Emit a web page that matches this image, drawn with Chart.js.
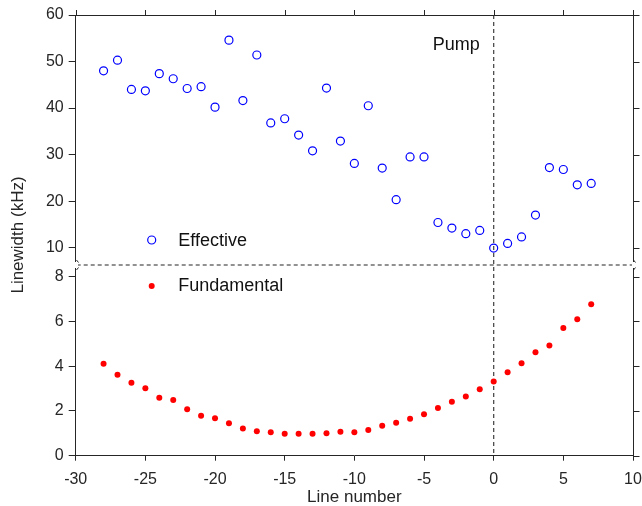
<!DOCTYPE html>
<html>
<head>
<meta charset="utf-8">
<script src="https://cdn.jsdelivr.net/npm/chart.js@4.4.1/dist/chart.umd.min.js"></script>
<style>
    html, body { margin: 0; padding: 0; background: #fff; }
    #wrap { width: 642px; height: 506px; }
</style>
</head>
<body>
<div id="wrap"><canvas id="chart"></canvas></div>
<script>
// data
const lineNumbers = [-28, -27, -26, -25, -24, -23, -22, -21, -20, -19, -18, -17, -16, -15, -14, -13, -12,
    -11, -10, -9, -8, -7, -6, -5, -4, -3, -2, -1, 0, 1, 2, 3, 4, 5, 6, 7];
const effectiveLinewidth = [48.0, 50.3, 44.0, 43.7, 47.4, 46.3, 44.2, 44.6, 40.2, 54.6, 41.6, 51.4, 36.8, 37.7, 34.2, 30.8, 44.3,
    32.9, 28.1, 40.5, 27.1, 20.3, 29.5, 29.5, 15.4, 14.2, 13.0, 13.7, 9.9, 10.9, 12.3, 17.0, 27.2, 26.8, 23.5, 23.8];
const fundamentalLinewidth = [4.11, 3.62, 3.26, 3.01, 2.59, 2.49, 2.07, 1.79, 1.67, 1.45, 1.22, 1.09, 1.05, 0.98, 0.98, 0.98, 1.00,
    1.07, 1.05, 1.15, 1.34, 1.47, 1.65, 1.85, 2.13, 2.41, 2.65, 2.97, 3.32, 3.73, 4.13, 4.62, 4.92, 5.71, 6.10, 6.77];

const xTicks = [-30, -25, -20, -15, -10, -5, 0, 5, 10];
const upperTicks = [10, 20, 30, 40, 50, 60];
const lowerTicks = [0, 2, 4, 6, 8];

const upperRange = [6.27, 60];
const lowerRange = [0, 8.52];
const pumpLine = 0;

const INK = '#262626';
const FONT = "'Liberation Sans', Arial, sans-serif";

function toPoints(xs, ys) {
    return xs.map((x, i) => ({ x, y: ys[i] }));
}

function fixedTicks(values) {
    return scale => { scale.ticks = values.map(v => ({ value: v })); };
}

function yScale(range, ticks, weight) {
    return {
        type: 'linear',
        position: 'left',
        stack: 'y',
        stackWeight: weight,
        min: range[0],
        max: range[1],
        afterBuildTicks: fixedTicks(ticks),
        afterFit: scale => { scale.width = 67.7; },
        grid: { drawOnChartArea: false, drawTicks: true, tickLength: 7, color: INK },
        border: { color: INK, width: 1 },
        ticks: { color: INK, font: { size: 16, family: FONT }, padding: 5 }
    };
}

// frame, break line, pump marker, legend and labels
const decorations = {
    id: 'decorations',
    beforeDatasetsDraw(chart) {
        const { ctx, chartArea, scales } = chart;
        const breakY = scales.yUpper.bottom;
        const px = scales.x.getPixelForValue(pumpLine);

        ctx.save();
        ctx.strokeStyle = '#6e6e6e';
        ctx.lineWidth = 1.3;
        ctx.setLineDash([4, 3]);
        ctx.beginPath();
        ctx.moveTo(chartArea.left + 1, breakY);
        ctx.lineTo(chartArea.right - 1, breakY);
        ctx.stroke();

        ctx.strokeStyle = '#4d4d4d';
        ctx.beginPath();
        ctx.moveTo(px, chartArea.top);
        ctx.lineTo(px, chartArea.bottom);
        ctx.stroke();
        ctx.restore();
    },
    afterDraw(chart) {
        const { ctx, chartArea, scales } = chart;
        const { left, right, top, bottom } = chartArea;
        const breakY = scales.yUpper.bottom;

        ctx.save();
        ctx.strokeStyle = INK;
        ctx.lineWidth = 1;

        // top border with outward ticks
        ctx.beginPath();
        ctx.moveTo(left, top + 0.5);
        ctx.lineTo(right, top + 0.5);
        for (const v of xTicks) {
            const x = Math.round(scales.x.getPixelForValue(v)) + 0.5;
            ctx.moveTo(x, top);
            ctx.lineTo(x, top - 5);
        }
        ctx.stroke();

        // right border with outward ticks, broken at the axis break
        const rx = Math.round(right) + 0.5;
        ctx.beginPath();
        ctx.moveTo(rx, top);
        ctx.lineTo(rx, breakY - 3);
        ctx.moveTo(rx, breakY + 3);
        ctx.lineTo(rx, bottom);
        for (const v of upperTicks) {
            const y = Math.round(scales.yUpper.getPixelForValue(v)) + 0.5;
            ctx.moveTo(rx, y);
            ctx.lineTo(rx + 6, y);
        }
        for (const v of lowerTicks) {
            const y = Math.round(scales.yLower.getPixelForValue(v)) + 0.5;
            ctx.moveTo(rx, y);
            ctx.lineTo(rx + 6, y);
        }
        ctx.stroke();

        // gap and break marks on both vertical axes
        const lx = Math.round(left) + 0.5;
        ctx.fillStyle = '#fff';
        ctx.fillRect(lx - 1.5, breakY - 3, 3, 6);
        ctx.beginPath();
        for (const x of [lx, rx]) {
            ctx.moveTo(x, breakY - 5);
            ctx.lineTo(x + 2, breakY - 2.5);
            ctx.moveTo(x, breakY + 5);
            ctx.lineTo(x + 2, breakY + 2.5);
        }
        ctx.stroke();

        // legend
        ctx.lineWidth = 1.2;
        ctx.strokeStyle = '#0000ff';
        ctx.beginPath();
        ctx.arc(left + 76, 240, 4, 0, Math.PI * 2);
        ctx.stroke();
        ctx.fillStyle = '#ff0000';
        ctx.beginPath();
        ctx.arc(left + 76, 286, 3, 0, Math.PI * 2);
        ctx.fill();

        ctx.fillStyle = '#111';
        ctx.font = `18px ${FONT}`;
        ctx.textBaseline = 'middle';
        ctx.textAlign = 'left';
        ctx.fillText('Effective', left + 102.5, 241);
        ctx.fillText('Fundamental', left + 102.5, 286);

        ctx.textAlign = 'right';
        ctx.fillText('Pump', scales.x.getPixelForValue(pumpLine) - 14, 45);

        // shared y-axis title
        ctx.fillStyle = INK;
        ctx.font = `17px ${FONT}`;
        ctx.textAlign = 'center';
        ctx.translate(18, 235);
        ctx.rotate(-Math.PI / 2);
        ctx.fillText('Linewidth (kHz)', 0, 0);
        ctx.restore();
    }
};

window.addEventListener('load', () => {
    new Chart(document.getElementById('chart'), {
        type: 'scatter',
        data: {
            datasets: [
                {
                    label: 'Effective',
                    data: toPoints(lineNumbers, effectiveLinewidth),
                    yAxisID: 'yUpper',
                    pointStyle: 'circle',
                    pointRadius: 4,
                    pointBorderWidth: 1.2,
                    pointBorderColor: '#0000ff',
                    pointBackgroundColor: 'rgba(0,0,0,0)'
                },
                {
                    label: 'Fundamental',
                    data: toPoints(lineNumbers, fundamentalLinewidth),
                    yAxisID: 'yLower',
                    pointStyle: 'circle',
                    pointRadius: 3,
                    pointBorderWidth: 0,
                    pointBackgroundColor: '#ff0000'
                }
            ]
        },
        options: {
            responsive: true,
            maintainAspectRatio: false,
            animation: false,
            layout: { padding: { left: 8, right: 9, top: 15, bottom: 0 } },
            plugins: {
                legend: { display: false },
                tooltip: { enabled: false }
            },
            scales: {
                x: {
                    type: 'linear',
                    position: 'bottom',
                    min: xTicks[0],
                    max: xTicks[xTicks.length - 1],
                    afterBuildTicks: fixedTicks(xTicks),
                    afterFit: scale => {
                        scale.height = 50.3;
                        scale.paddingLeft = 0;
                        scale.paddingRight = 0;
                    },
                    grid: { drawOnChartArea: false, drawTicks: true, tickLength: 5, color: INK },
                    border: { color: INK, width: 1 },
                    ticks: { color: INK, font: { size: 16, family: FONT }, padding: 9, maxRotation: 0, autoSkip: false },
                    title: {
                        display: true,
                        text: 'Line number',
                        color: INK,
                        font: { size: 17, family: FONT, lineHeight: 1 },
                        padding: { top: 0, bottom: 0 }
                    }
                },
                // first scale in the stack is placed at the bottom
                yLower: yScale(lowerRange, lowerTicks, 190.7),
                yUpper: yScale(upperRange, upperTicks, 250)
            }
        },
        plugins: [decorations]
    });
});
</script>
</body>
</html>
